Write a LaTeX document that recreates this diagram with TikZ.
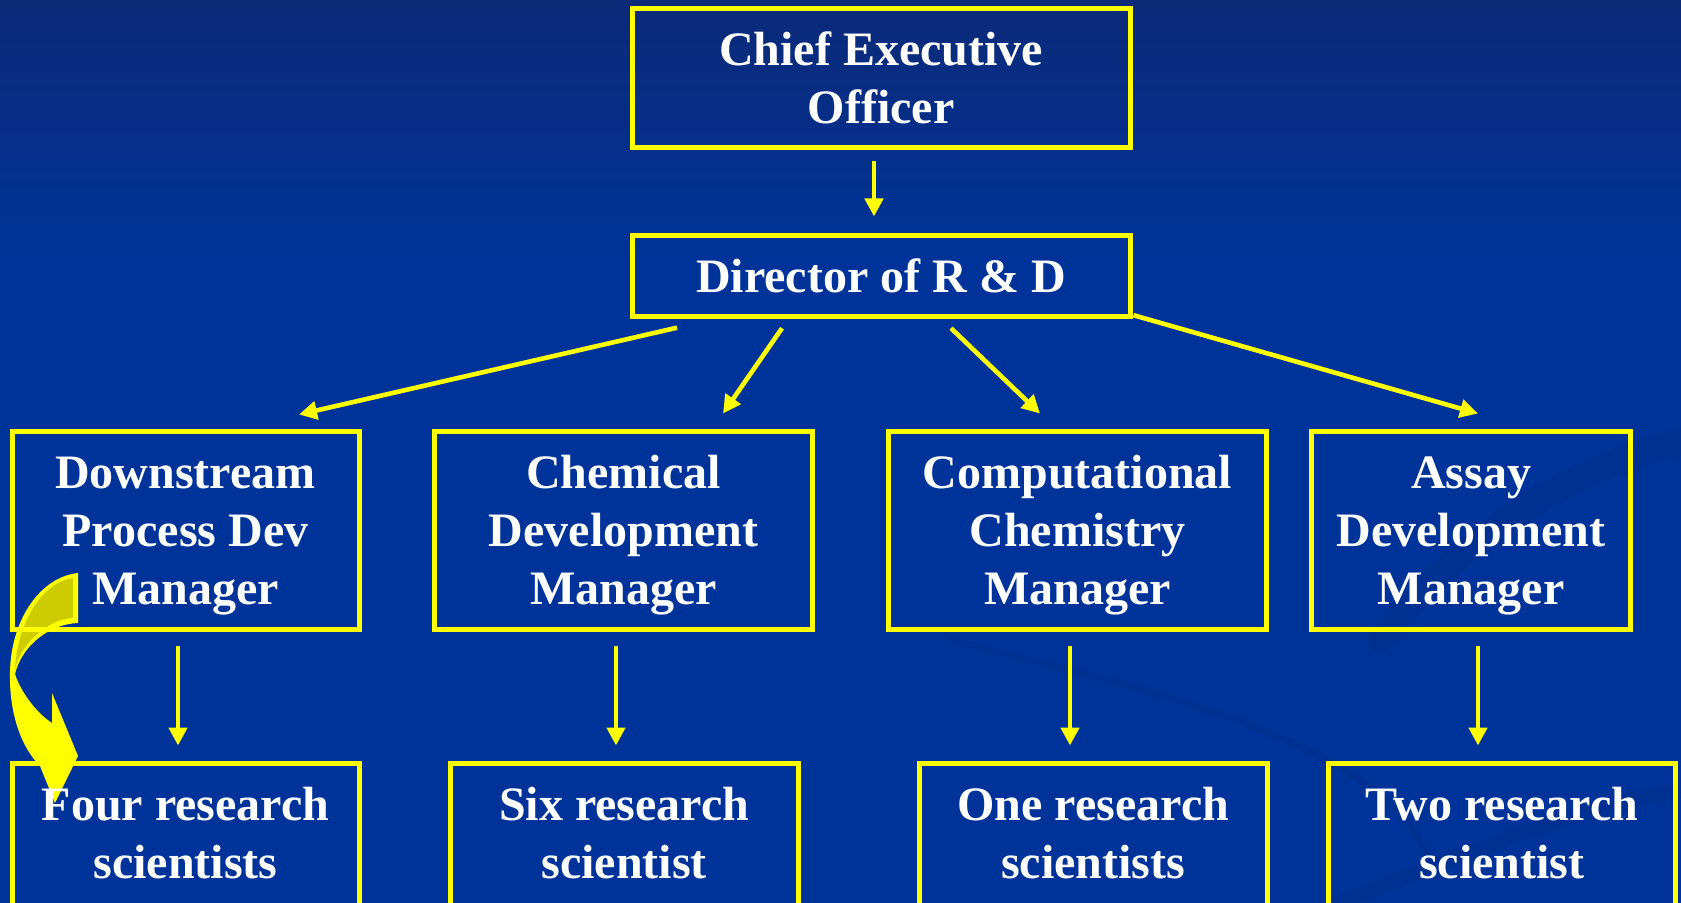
\documentclass[tikz,border=0pt]{standalone}
\usepackage{fontspec}
\setmainfont{Liberation Serif}
\usetikzlibrary{arrows.meta,calc}
\definecolor{bgblue}{HTML}{003399}
\definecolor{bgtop}{HTML}{0B2A78}
\definecolor{ylw}{HTML}{FFFF00}
\definecolor{olivey}{HTML}{CCCC00}
\definecolor{swirl}{HTML}{002B85}
\newcommand\bx[3]{\parbox[c][#1][t]{#2}{\centering\fontsize{24}{29}\selectfont\bfseries\vspace*{6.25pt}#3}}
\newcommand\st{\rule[-6.75pt]{0pt}{29pt}}
\begin{document}
\begin{tikzpicture}[x=0.5pt,y=-0.5pt,
  box/.style={draw=ylw,line width=2.5pt,inner sep=0pt,text=white},
  arr/.style={draw=ylw,line width=2.3pt,-{Triangle[length=9pt,width=9pt]}},
  swirlband/.style={draw=swirl,opacity=0.3,line cap=round}]
\path[use as bounding box] (0,0) rectangle (1681,903);
\clip (0,0) rectangle (1681,903);
\fill[bgblue] (0,0) rectangle (1681,903);
\shade[top color=bgtop,bottom color=bgblue] (0,0) rectangle (1681,260);
% faint background swirl
\draw[swirlband,line width=14pt] (1380,640) .. controls (1460,540) and (1560,470) .. (1690,440);
\draw[swirlband,line width=4pt] (950,640) .. controls (1150,690) and (1380,740) .. (1430,860);
\draw[swirlband,line width=8pt] (1340,903) .. controls (1500,840) and (1600,800) .. (1690,790);
% curved block arrow
\fill[ylw] (78,573) .. controls (40,577) and (11,620) .. (10,672)
  .. controls (9,715) and (22,748) .. (40,766) -- (55,803) -- (78,756) -- (52,693) -- (52,723)
  .. controls (35,712) and (20,690) .. (15,674)
  .. controls (22,645) and (50,624) .. (78,623) -- cycle;
\fill[olivey] (73,578) .. controls (43,582) and (17,622) .. (15,670)
  .. controls (20,644) and (48,619) .. (73,618) -- cycle;
% boxes
\node[box] (ceo) at (881,78.25) {\bx{69.75pt}{249pt}{\st Chief Executive\\\st Officer}};
\node[box] (dir) at (881,276.1) {\bx{40.6pt}{249pt}{\st Director of R \& D}};
\node[box] (dpd) at (185.5,530.25) {\bx{98.75pt}{173.5pt}{\st Downstream\\\st Process Dev\\\st Manager}};
\node[box] (cdm) at (623.5,530.25) {\bx{98.75pt}{189pt}{\st Chemical\\\st Development\\\st Manager}};
\node[box] (ccm) at (1077.5,530.25) {\bx{98.75pt}{189pt}{\st Computational\\\st Chemistry\\\st Manager}};
\node[box] (adm) at (1471,530.25) {\bx{98.75pt}{159.5pt}{\st Assay\\\st Development\\\st Manager}};
\node[box] (four) at (185.5,862.25) {\bx{98.75pt}{173.5pt}{\st Four research\\\st scientists}};
\node[box] (six) at (624.25,862.25) {\bx{98.75pt}{174.25pt}{\st Six research\\\st scientist}};
\node[box] (one) at (1093.25,862.25) {\bx{98.75pt}{173.75pt}{\st One research\\\st scientists}};
\node[box] (two) at (1501.75,862.25) {\bx{98.75pt}{173.75pt}{\st Two research\\\st scientist}};
% connectors
\draw[arr] ($(ceo.south)+(-7,11)$) -- ($(dir.north)+(-7,-16.5)$);
\draw[arr] ($(dir.south)+(-204,8.5)$) -- ($(dpd.north)+(113.5,-14.5)$);
\draw[arr] ($(dir.south)+(-99,9)$) -- ($(cdm.north)+(99.5,-15.5)$);
\draw[arr] ($(dir.south)+(70,9)$) -- ($(ccm.north)+(-37.5,-15.5)$);
\draw[arr] ($(dir.south east)+(1,-4)$) -- ($(adm.north)+(7,-15.5)$);
\draw[arr] ($(dpd.south)+(-7.5,14)$) -- ($(four.north)+(-7.5,-15.5)$);
\draw[arr] ($(cdm.south)+(-7.5,14)$) -- ($(six.north)+(-8.25,-15.5)$);
\draw[arr] ($(ccm.south)+(-7.5,14)$) -- ($(one.north)+(-23.25,-15.5)$);
\draw[arr] ($(adm.south)+(7,14)$) -- ($(two.north)+(-23.75,-15.5)$);
\end{tikzpicture}
\end{document}
